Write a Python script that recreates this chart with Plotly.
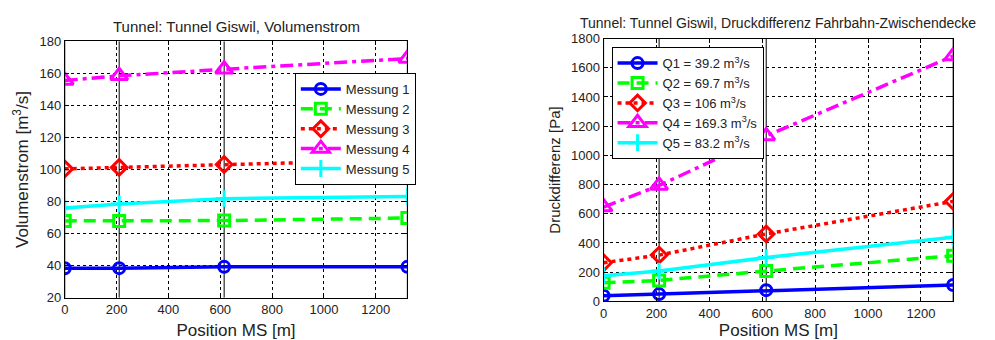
import plotly.graph_objects as go

# Measurement positions along the tunnel [m]
positions = [0, 210, 615, 1322]

# Volume flow per measurement [m3/s]
messung_names = ["Messung 1", "Messung 2", "Messung 3", "Messung 4", "Messung 5"]
messung_1 = [38.3, 38.4, 39.2, 39.2]
messung_2 = [67.9, 67.9, 68.1, 69.7]
messung_3 = [100.4, 101.3, 103.1, 106.0]
messung_4 = [155.6, 158.5, 162.6, 169.3]
messung_5 = [76.0, 78.5, 81.8, 83.2]

# Pressure difference road - intermediate ceiling [Pa]
q_names = ["Q1 = 39.2 m<sup>3</sup>/s", "Q2 = 69.7 m<sup>3</sup>/s", "Q3 = 106 m<sup>3</sup>/s",
           "Q4 = 169.3 m<sup>3</sup>/s", "Q5 = 83.2 m<sup>3</sup>/s"]
dp_1 = [39, 50, 77, 112]
dp_2 = [127, 144, 208, 313]
dp_3 = [265, 317, 462, 685]
dp_4 = [646, 794, 1133, 1680]
dp_5 = [175, 208, 300, 440]

colors = ["#0000FF", "#00FF00", "#FF0000", "#FF00FF", "#00FFFF"]
dashes = ["solid", "12px,7px", "4px,4px", "13px,5px,4px,5px", "solid"]
symbols = ["circle-open", "square-open", "diamond-open", "triangle-up-open", "cross-thin-open"]
msizes = [11, 11, 12, 15, 12]

FONT = "Liberation Sans, Arial, sans-serif"
W, H = 995, 340

fig = go.Figure()

def add_series(values_list, names, xa, ya, legend):
    for i, (vals, name) in enumerate(zip(values_list, names)):
        fig.add_trace(go.Scatter(
            x=positions, y=vals, name=name, mode="lines+markers",
            xaxis=xa, yaxis=ya, legend=legend,
            line=dict(color=colors[i], width=3.5, dash=dashes[i]),
            marker=dict(symbol=symbols[i], size=msizes[i], color=colors[i],
                        line=dict(color=colors[i], width=3)),
        ))

add_series([messung_1, messung_2, messung_3, messung_4, messung_5], messung_names, "x", "y", "legend")
add_series([dp_1, dp_2, dp_3, dp_4, dp_5], q_names, "x2", "y2", "legend2")

def px_x(p):
    return p / W

def px_y(p):
    return 1 - p / H

axis_common = dict(
    showline=True, linecolor="black", linewidth=1, mirror="ticks",
    ticks="inside", ticklen=4, tickcolor="black",
    showgrid=True, gridcolor="black", gridwidth=1, griddash="dot",
    zeroline=False, tickfont=dict(family=FONT, size=13, color="#222"),
)

fig.update_layout(
    width=W, height=H, margin=dict(l=0, r=0, t=0, b=0),
    paper_bgcolor="white", plot_bgcolor="white",
    font=dict(family=FONT, color="#222"),
    xaxis=dict(domain=[px_x(61), px_x(405)], anchor="y", range=[0, 1322],
               tickvals=[0, 200, 400, 600, 800, 1000, 1200],
               title=dict(text="Position MS [m]", font=dict(size=17), standoff=7),
               **axis_common),
    yaxis=dict(domain=[px_y(304), px_y(36)], anchor="x", range=[20, 180], dtick=20,
               title=dict(text="Volumenstrom [m<sup>3</sup>/s]", font=dict(size=17), standoff=6),
               **axis_common),
    xaxis2=dict(domain=[px_x(602), px_x(953)], anchor="y2", range=[0, 1322],
                tickvals=[0, 200, 400, 600, 800, 1000, 1200],
                title=dict(text="Position MS [m]", font=dict(size=17), standoff=7),
                **axis_common),
    yaxis2=dict(domain=[px_y(308), px_y(33)], anchor="x2", range=[0, 1800], dtick=200,
                title=dict(text="Druckdifferenz [Pa]", font=dict(size=15), standoff=6),
                **axis_common),
    legend=dict(x=px_x(292), y=px_y(69), xanchor="left", yanchor="top",
                bgcolor="white", bordercolor="black", borderwidth=1,
                font=dict(family=FONT, size=13, color="#222"), tracegroupgap=0,
                itemwidth=40),
    legend2=dict(x=px_x(610), y=px_y(42), xanchor="left", yanchor="top",
                 bgcolor="white", bordercolor="black", borderwidth=1,
                 font=dict(family=FONT, size=13, color="#222"), tracegroupgap=0,
                 itemwidth=40),
    showlegend=True,
)

# Solid vertical lines marking the measurement positions
for xref, yref in (("x", "y domain"), ("x2", "y2 domain")):
    for p in positions:
        fig.add_shape(type="line", xref=xref, yref=yref, x0=p, x1=p, y0=0, y1=1,
                      line=dict(color="black", width=1), layer="below")

# Subplot titles
fig.add_annotation(text="Tunnel: Tunnel Giswil, Volumenstrom", xref="paper", yref="paper",
                   x=px_x(233), y=px_y(20), xanchor="center", yanchor="middle", showarrow=False,
                   font=dict(family=FONT, size=15, color="#222"))
fig.add_annotation(text="Tunnel: Tunnel Giswil, Druckdifferenz Fahrbahn-Zwischendecke",
                   xref="paper", yref="paper", x=px_x(777), y=px_y(17),
                   xanchor="center", yanchor="middle", showarrow=False,
                   font=dict(family=FONT, size=14, color="#222"))

fig.write_html("out.html")
